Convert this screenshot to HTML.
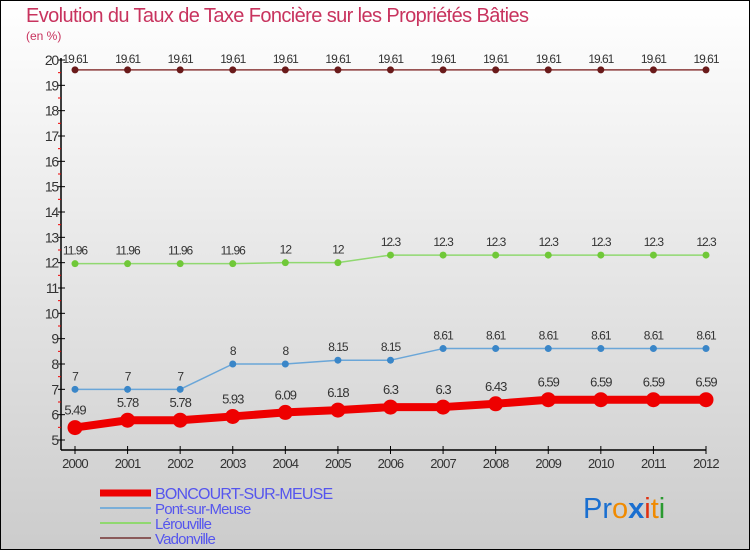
<!DOCTYPE html>
<html><head><meta charset="utf-8"><style>
html,body{margin:0;padding:0}
body{width:750px;height:550px;overflow:hidden;font-family:"Liberation Sans",sans-serif}
svg{display:block}
</style></head><body>
<svg id="chart" width="750" height="550" xmlns="http://www.w3.org/2000/svg">
<defs><linearGradient id="bg" x1="0" y1="0" x2="0" y2="1"><stop offset="0" stop-color="#ffffff"/><stop offset="1" stop-color="#cccccc"/></linearGradient></defs>
<rect x="0.5" y="0.5" width="749" height="549" fill="url(#bg)" stroke="#000"/>
<text x="26" y="22" font-size="20" fill="#c8335e" letter-spacing="-0.6">Evolution du Taux de Taxe Foncière sur les Propriétés Bâties</text>
<text x="26" y="40" font-size="12" fill="#c8335e">(en %)</text>
<g id="axes"></g>
<g id="series"></g>
<g id="legend"></g>
<text x="583" y="518" font-size="29"><tspan fill="#1a6fd0">Pr</tspan><tspan fill="#f08a00">o</tspan><tspan fill="#1a6fd0" font-weight="bold">x</tspan><tspan fill="#e03010">i</tspan><tspan fill="#f08a00">t</tspan><tspan fill="#2a9a30">i</tspan></text>
</svg>
<script>
const years = [2000,2001,2002,2003,2004,2005,2006,2007,2008,2009,2010,2011,2012];
const boncourt = [5.49,5.78,5.78,5.93,6.09,6.18,6.3,6.3,6.43,6.59,6.59,6.59,6.59];
const pont = [7,7,7,8,8,8.15,8.15,8.61,8.61,8.61,8.61,8.61,8.61];
const lerouville = [11.96,11.96,11.96,11.96,12,12,12.3,12.3,12.3,12.3,12.3,12.3,12.3];
const vadonville = [19.61,19.61,19.61,19.61,19.61,19.61,19.61,19.61,19.61,19.61,19.61,19.61,19.61];
const yTicks = [5,6,7,8,9,10,11,12,13,14,15,16,17,18,19,20];
const names = ["BONCOURT-SUR-MEUSE","Pont-sur-Meuse","Lérouville","Vadonville"];

const NS="http://www.w3.org/2000/svg";
function xS(i){return 75+i*(706-75)/(years.length-1);}
function yS(v){return 440-(v-5)*(380/15);}
function mk(tag,attrs,parent,text){const e=document.createElementNS(NS,tag);for(const k in attrs)e.setAttribute(k,attrs[k]);if(text!==undefined)e.textContent=text;parent.appendChild(e);return e;}
const axes=document.getElementById('axes');
let yl=mk('line',{x1:61,y1:58,x2:61,y2:450,stroke:'#000','stroke-width':1.5},axes);


let xl=mk('line',{x1:61,y1:450,x2:706,y2:450,stroke:'#000','stroke-width':1.5},axes);


yTicks.forEach(v=>{
  const y=yS(v);
  mk('line',{x1:58,y1:y,x2:65,y2:y,stroke:'#000'},axes);
  if(v<20) mk('line',{x1:58,y1:yS(v+0.5),x2:61,y2:yS(v+0.5),stroke:'#e00'},axes);
  const t=mk('text',{x:58,y:y+5,'font-size':14,fill:'#333','text-anchor':'end','letter-spacing':'-1.2'},axes,String(v));
  
  
});
years.forEach((yr,i)=>{
  const x=xS(i);
  mk('line',{x1:x,y1:446,x2:x,y2:454,stroke:'#000'},axes);
  const t=mk('text',{x:x,y:468,'font-size':13,fill:'#333','text-anchor':'middle','letter-spacing':'-0.8'},axes,String(yr));
  
  
});
const ser=document.getElementById('series');
function draw(vals,color,ptColor,w,r,name,lblOff,lblSize){
  const g=mk('g',{},ser);
  
  
  mk('polyline',{points:vals.map((v,i)=>xS(i)+','+yS(v)).join(' '),fill:'none',stroke:color,'stroke-width':w,'stroke-linejoin':'round'},g);
  vals.forEach((v,i)=>{
    const c=mk('circle',{cx:xS(i),cy:yS(v),r:r,fill:ptColor},g);
    
    
    const t=mk('text',{x:xS(i),y:yS(v)-lblOff,'font-size':lblSize,fill:'#333','text-anchor':'middle','letter-spacing':'-1'},g,String(v));
    
    
  });
}
draw(vadonville,'#8a3a3a','#6a1a1a',1.5,3.5,'series-vadonville',7,12);
draw(lerouville,'#90d870','#70c838',1.5,3.5,'series-lerouville',9,12);
draw(pont,'#6aa6d8','#3a86c8',1.5,3.5,'series-pont-sur-meuse',9,12);
draw(boncourt,'#ee0000','#ee0000',8,7.5,'series-boncourt',13,13);
const lg=document.getElementById('legend');
const lc=['#ee0000','#7aaed8','#90d870','#8a5a5a'];
const lw=[7,2,2,2];
names.forEach((n,i)=>{
  const y=493+i*15;
  const g=mk('g',{},lg);
  
  
  mk('line',{x1:100,y1:y,x2:151,y2:y,stroke:lc[i],'stroke-width':lw[i]},g);
  mk('text',{x:155,y:y+6,'font-size':i==0?16:15,fill:'#5555ee','letter-spacing':'-0.8'},g,n);
});
</script>
</body></html>
